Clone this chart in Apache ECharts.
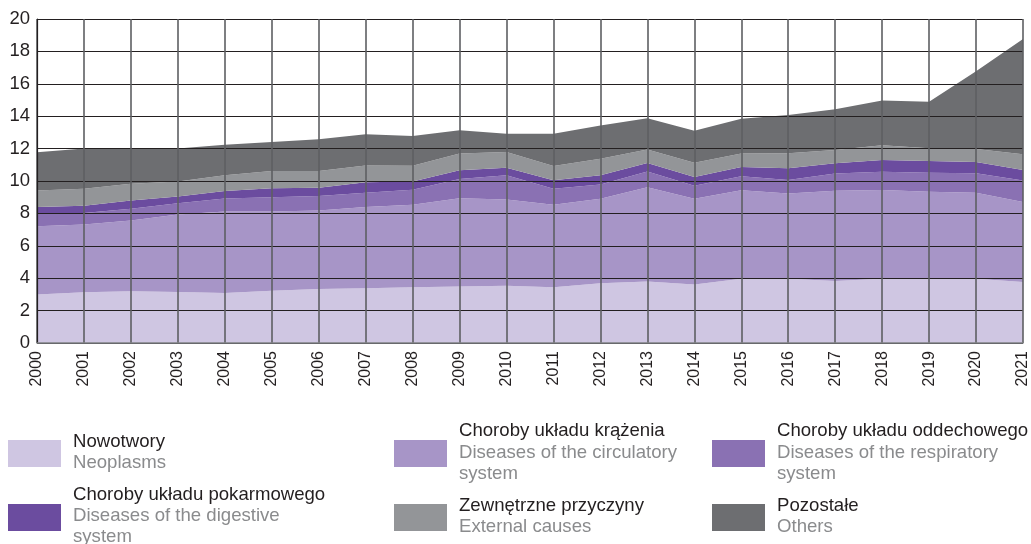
<!DOCTYPE html>
<html>
<head>
<meta charset="utf-8">
<script src="https://cdn.jsdelivr.net/npm/echarts@6/dist/echarts.min.js"></script>
<style>
html,body{margin:0;padding:0;background:#fff;}
#chart{width:1031px;height:544px;}
</style>
</head>
<body>
<div id="chart"></div>
<script>
const years = ['2000','2001','2002','2003','2004','2005','2006','2007','2008','2009','2010','2011','2012','2013','2014','2015','2016','2017','2018','2019','2020','2021'];
const neoplasms   = [3.00,3.13,3.19,3.15,3.09,3.23,3.34,3.38,3.44,3.48,3.54,3.44,3.69,3.79,3.61,3.96,3.96,3.82,3.96,3.96,3.96,3.76];
const circulatory = [4.20,4.19,4.37,4.78,5.03,4.89,4.84,5.01,5.09,5.46,5.32,5.09,5.21,5.83,5.30,5.47,5.27,5.58,5.48,5.37,5.31,4.95];
const respiratory = [0.80,0.70,0.73,0.70,0.80,0.87,0.89,0.88,0.93,1.18,1.49,0.99,0.89,0.97,0.79,0.86,0.83,1.07,1.13,1.18,1.21,1.32];
const digestive   = [0.40,0.45,0.51,0.42,0.46,0.57,0.52,0.66,0.51,0.54,0.47,0.52,0.56,0.52,0.55,0.58,0.72,0.62,0.72,0.72,0.70,0.65];
const external    = [1.02,1.05,1.03,0.92,0.97,1.05,1.02,1.03,0.97,1.03,0.97,0.88,1.03,0.84,0.88,0.83,0.93,0.82,0.91,0.79,0.79,0.97];
const others      = [2.36,2.48,2.17,2.03,1.89,1.80,1.96,1.92,1.84,1.44,1.13,2.00,2.04,1.92,1.97,2.14,2.37,2.52,2.77,2.87,4.80,7.12];
const yTicks = [0,2,4,6,8,10,12,14,16,18,20];

const seriesDefs = [
  {pl:'Nowotwory', en:['Neoplasms'], data:neoplasms, color:'#cfc6e2'},
  {pl:'Choroby układu krążenia', en:['Diseases of the circulatory','system'], data:circulatory, color:'#a795c7'},
  {pl:'Choroby układu oddechowego', en:['Diseases of the respiratory','system'], data:respiratory, color:'#8a71b3'},
  {pl:'Choroby układu pokarmowego', en:['Diseases of the digestive','system'], data:digestive, color:'#6b4c9f'},
  {pl:'Zewnętrzne przyczyny', en:['External causes'], data:external, color:'#939598'},
  {pl:'Pozostałe', en:['Others'], data:others, color:'#6d6e71'}
];

const FONT = 'Liberation Sans, Arial, sans-serif';
const chart = echarts.init(document.getElementById('chart'), null, {renderer:'canvas'});

const legendPos = [
  {x:8,   sy:440, lines:[442,462.5]},
  {x:394, sy:440, lines:[431,452.5,474]},
  {x:712, sy:440, lines:[431,452.5,474]},
  {x:8,   sy:504, lines:[495,515.5,536.5]},
  {x:394, sy:504, lines:[505.5,526.5]},
  {x:712, sy:504, lines:[505.5,526.5]}
];
const graphics = [];
seriesDefs.forEach((s,i)=>{
  const p = legendPos[i];
  graphics.push({type:'rect', shape:{x:p.x, y:p.sy, width:53, height:27}, style:{fill:s.color}});
  const texts = [s.pl].concat(s.en);
  texts.forEach((t,j)=>{
    graphics.push({type:'text', x:p.x+65, y:p.lines[j], style:{text:t, fill: j===0 ? '#231f20' : '#8a8b8d', font:'18.6px '+FONT, textVerticalAlign:'middle', verticalAlign:'middle'}});
  });
});

chart.setOption({
  animation:false,
  grid:{left:37, right:8, top:19, bottom:201, containLabel:false},
  xAxis:{
    type:'category', data:years, boundaryGap:false, z:10,
    axisLine:{show:true, lineStyle:{color:'#808285', width:1.5}},
    axisTick:{show:false},
    axisLabel:{rotate:90, fontSize:16, color:'#231f20', fontFamily:FONT, margin:8, interval:0},
    splitLine:{show:true, lineStyle:{color:'#5e5f62', width:1.6}}
  },
  yAxis:{
    type:'value', min:0, max:20, interval:2, z:10,
    axisLine:{show:true, lineStyle:{color:'#231f20', width:1.2}},
    axisTick:{show:false},
    axisLabel:{fontSize:18.5, color:'#231f20', fontFamily:FONT, margin:7,
      formatter:v=> yTicks.indexOf(v) >= 0 ? String(v) : ''},
    splitLine:{show:true, lineStyle:{color:'#231f20', width:1.2}}
  },
  series: seriesDefs.map(s=>({
    name:s.pl, type:'line', stack:'total', data:s.data, symbol:'none', smooth:false,
    lineStyle:{width:0}, areaStyle:{color:s.color, opacity:1}, itemStyle:{color:s.color}, z:2
  })),
  graphic: graphics
});
</script>
</body>
</html>
